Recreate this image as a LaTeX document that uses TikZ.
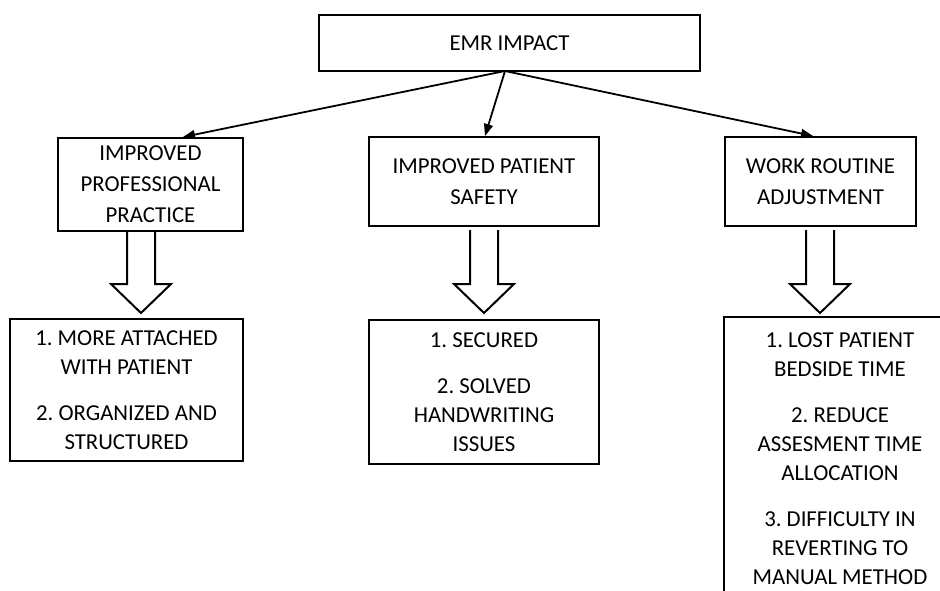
\documentclass[tikz,border=0pt]{standalone}
\usepackage{fontspec}
\setmainfont{Carlito}
\usetikzlibrary{arrows.meta}
\frenchspacing

\tikzset{
  box/.style={draw, line width=2pt, align=center, inner sep=0pt,
    font=\fontsize{22.8}{31}\selectfont},
  listbox/.style={box, font=\fontsize{22.8}{29}\selectfont},
  boxline/.style={line width=2pt, line join=miter},
  thinarrow/.style={line width=1.8pt, -{Triangle[length=12pt,width=9pt]}},
  bigarrow/.style={line width=2pt, line join=miter}
}

\begin{document}
\begin{tikzpicture}[x=1pt,y=-1pt]

				\useasboundingbox (0,0) rectangle (940,591);
				\clip (0,0) rectangle (940,591);

				% top level
				\node[box, minimum width=381, minimum height=56] (emr) at (509.5,43) {EMR IMPACT};
				\coordinate (hub) at (505,71);

				% second level
				\node[box, minimum width=185, minimum height=93] (ipp) at (150.5,184.5) {IMPROVED\\PROFESSIONAL\\PRACTICE};
				\node[box, minimum width=230, minimum height=89] (ips) at (484,181.5) {IMPROVED PATIENT\\SAFETY};
				\node[box, minimum width=191, minimum height=89] (wra) at (820.5,181.5) {WORK ROUTINE\\ADJUSTMENT};

				\draw[thinarrow] (hub) -- ([xshift=32.5]ipp.north);
				\draw[thinarrow] (hub) -- ([xshift=1]ips.north);
				\draw[thinarrow] (hub) -- ([xshift=-7.5]wra.north);

				% block arrows
				\foreach \x/\t in {141/231, 484/230, 820/230}
					\draw[bigarrow] (\x-14,\t) -- (\x-14,284) -- (\x-30,284) -- (\x,313)
						-- (\x+30,284) -- (\x+14,284) -- (\x+14,\t);

				% third level
				\node[listbox, minimum width=233, minimum height=142] (ippl) at (126.5,390)
					{1. MORE ATTACHED\\WITH PATIENT\\[17pt]2. ORGANIZED AND\\STRUCTURED};
				\node[listbox, minimum width=230, minimum height=144] (ipsl) at (484,392)
					{1. SECURED\\[17pt]2. SOLVED\\HANDWRITING\\ISSUES};
				\node[listbox, draw=none, minimum width=230, minimum height=282] (wral) at (840,459)
					{1. LOST PATIENT\\BEDSIDE TIME\\[17pt]2. REDUCE\\ASSESMENT TIME\\ALLOCATION\\[17pt]3. DIFFICULTY IN\\REVERTING TO\\MANUAL METHOD};
				\draw[boxline] ([xshift=40]wral.north east) -- (wral.north west) -- ([yshift=-20]wral.south west);

\end{tikzpicture}
\end{document}
